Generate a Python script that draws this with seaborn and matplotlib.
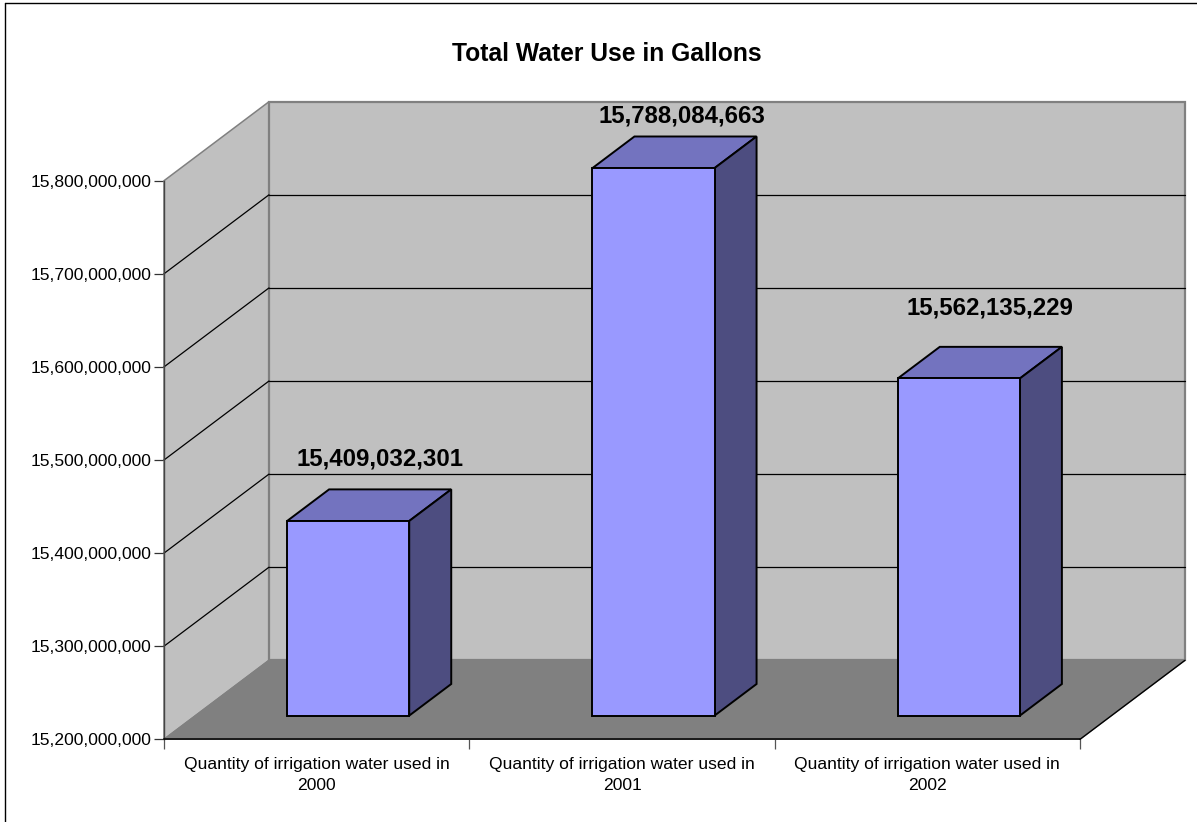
import matplotlib
matplotlib.use("Agg")
import matplotlib.pyplot as plt
import seaborn as sns
import pandas as pd
from matplotlib.lines import Line2D
from matplotlib.patches import Polygon
from matplotlib.ticker import FuncFormatter
from matplotlib.transforms import Affine2D, IdentityTransform

# values
categories = [
    "Quantity of irrigation water used in\n2000",
    "Quantity of irrigation water used in\n2001",
    "Quantity of irrigation water used in\n2002",
]
gallons = [15409032301, 15788084663, 15562135229]
y_ticks = [15200000000, 15300000000, 15400000000, 15500000000,
           15600000000, 15700000000, 15800000000]
chart_title = "Total Water Use in Gallons"

# fake 3D depth, in pixels
DEPTH_X = 105
DEPTH_Y = 79
BAR_FRONT = 0.3
BAR_BACK = 0.7
W, H = 1197, 822

WALL = "#C0C0C0"
FLOOR = "#808080"
BAR = "#9999FF"
BAR_TOP = "#7373BF"
BAR_SIDE = "#4D4D80"

sns.set_theme(style="white")
plt.rcParams["font.family"] = ["Liberation Sans", "DejaVu Sans"]

df = pd.DataFrame({"category": categories, "gallons": gallons})

fig = plt.figure(figsize=(W / 100, H / 100), dpi=100, facecolor="white")
ax = fig.add_axes([164 / W, 1 - 739.3 / H, 916 / W, 558.6 / H])

sns.barplot(data=df, x="category", y="gallons", color=BAR, saturation=1,
            width=0.4, edgecolor="black", linewidth=1.4, ax=ax, zorder=5)
bar_patches = list(ax.patches)
floor_val = y_ticks[0]
top_val = y_ticks[-1]
ax.set_xlim(-0.5, 2.5)
ax.set_ylim(floor_val, top_val)
ax.patch.set_visible(False)


def to_px(x, y, depth=0.0):
    px, py = ax.transData.transform((x, y))
    return px + DEPTH_X * depth, py + DEPTH_Y * depth


def poly(points, color, edge=None, lw=1.0, z=1):
    ax.add_patch(Polygon(points, closed=True, facecolor=color, edgecolor=edge or color,
                         linewidth=lw, transform=IdentityTransform(), clip_on=False, zorder=z))


def line(p0, p1, color="black", lw=1.0, z=2):
    ax.add_line(Line2D([p0[0], p1[0]], [p0[1], p1[1]], color=color, linewidth=lw,
                       transform=IdentityTransform(), clip_on=False, zorder=z))


# walls and floor
poly([to_px(-0.5, floor_val), to_px(-0.5, top_val), to_px(-0.5, top_val, 1), to_px(-0.5, floor_val, 1)],
     WALL, edge=FLOOR, lw=1.1)
poly([to_px(-0.5, floor_val, 1), to_px(-0.5, top_val, 1), to_px(2.5, top_val, 1), to_px(2.5, floor_val, 1)],
     WALL, edge=FLOOR, lw=1.6)
poly([to_px(-0.5, floor_val), to_px(2.5, floor_val), to_px(2.5, floor_val, 1), to_px(-0.5, floor_val, 1)],
     FLOOR, z=1.5)
line(to_px(2.5, floor_val), to_px(2.5, floor_val, 1))

# grid lines, side wall then back wall
for v in y_ticks[1:-1]:
    line(to_px(-0.5, v), to_px(-0.5, v, 1), lw=0.9)
    line(to_px(-0.5, v, 1), to_px(2.5, v, 1), lw=0.9)

# shift the seaborn bars back onto the floor and add top + side faces
front_shift = Affine2D().translate(DEPTH_X * BAR_FRONT, DEPTH_Y * BAR_FRONT)
for patch, val in zip(bar_patches, gallons):
    patch.set_y(floor_val)
    patch.set_height(val - floor_val)
    patch.set_transform(ax.transData + front_shift)
    patch.set_clip_on(False)
    x0 = patch.get_x()
    x1 = x0 + patch.get_width()
    poly([to_px(x0, val, BAR_FRONT), to_px(x1, val, BAR_FRONT), to_px(x1, val, BAR_BACK), to_px(x0, val, BAR_BACK)],
         BAR_TOP, edge="black", lw=1.4, z=4)
    poly([to_px(x1, floor_val, BAR_FRONT), to_px(x1, val, BAR_FRONT), to_px(x1, val, BAR_BACK), to_px(x1, floor_val, BAR_BACK)],
         BAR_SIDE, edge="black", lw=1.4, z=4)

# data labels, nudged by hand like the original
label_nudge = [(32, 62), (28, 52), (31, 70.5)]
for i, val in enumerate(gallons):
    ax.annotate(f"{val:,}", xy=to_px(i, val, BAR_FRONT), xycoords=IdentityTransform(),
                xytext=label_nudge[i], textcoords="offset pixels",
                ha="center", va="center", fontsize=17.3, fontweight="bold",
                color="black", zorder=8, annotation_clip=False)

# axes
ax.set_xlabel("")
ax.set_ylabel("")
ax.set_yticks(y_ticks)
ax.yaxis.set_major_formatter(FuncFormatter(lambda v, _: f"{v:,.0f}"))
ax.tick_params(axis="y", left=True, length=7.2, width=0.9, color="#333333", pad=2,
               labelsize=12.6, labelcolor="black")
ax.set_xticks([-0.5, 0.5, 1.5, 2.5])
ax.set_xticklabels([])
ax.set_xticks([0, 1, 2], minor=True)
ax.set_xticklabels(categories, minor=True, fontsize=12.6, color="black", linespacing=1.55)
ax.tick_params(axis="x", which="major", bottom=True, length=7.2, width=0.9, color="#555555")
ax.tick_params(axis="x", which="minor", bottom=False, length=0, pad=12.5)
sns.despine(ax=ax, top=True, right=True)
ax.spines["left"].set_color("#444444")
ax.spines["left"].set_linewidth(1.0)
ax.spines["bottom"].set_color("black")
ax.spines["bottom"].set_linewidth(1.1)
ax.spines["left"].set_zorder(3)
ax.spines["bottom"].set_zorder(3)

fig.text(607 / W, 1 - 54 / H, chart_title, ha="center", va="center",
         fontsize=17.7, fontweight="bold", color="black")

# chart frame, only left and top fall inside the image
fig.add_artist(Line2D([5 / W, 5 / W], [0, 1 - 3.5 / H], color="black", linewidth=1.0))
fig.add_artist(Line2D([5 / W, 1], [1 - 3.5 / H, 1 - 3.5 / H], color="black", linewidth=1.0))

fig.savefig("out.png", dpi=100, facecolor="white")
